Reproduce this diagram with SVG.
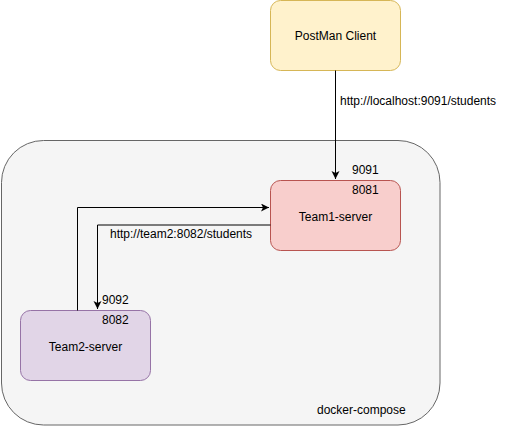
<svg xmlns="http://www.w3.org/2000/svg" width="511" height="429" viewBox="0 0 511 429">
<style>
text{font-family:"Liberation Sans",Arial,sans-serif;font-size:12px;fill:#000}
.c{text-anchor:middle}
.e{fill:none;stroke:#000;stroke-width:1}
</style>
<defs>
<marker id="arr" markerWidth="10" markerHeight="10" refX="8" refY="4" orient="auto" markerUnits="userSpaceOnUse">
<path d="M0,0 L8,4 L0,8 L2,4 Z" fill="#000"/>
</marker>
</defs>
<rect width="511" height="429" fill="#fff"/>
<g id="docker-compose">
<rect x="1.5" y="140.5" width="438.5" height="284.5" rx="42" ry="42" fill="#f5f5f5" stroke="#666666"/>
<text x="317" y="414">docker-compose</text>
</g>
<g id="postman">
<rect x="270.5" y="0.5" width="130" height="70" rx="10" ry="10" fill="#fff2cc" stroke="#d6b656"/>
<text class="c" x="335.5" y="40">PostMan Client</text>
</g>
<g id="team1">
<rect x="270.5" y="180.5" width="130" height="70" rx="10" ry="10" fill="#f8cecc" stroke="#b85450"/>
<text class="c" x="335.5" y="221">Team1-server</text>
<text x="352" y="174">9091</text>
<text x="352" y="194">8081</text>
</g>
<g id="team2">
<rect x="20.5" y="310.5" width="130" height="70" rx="10" ry="10" fill="#e1d5e7" stroke="#9673a6"/>
<text class="c" x="85.5" y="351">Team2-server</text>
<text x="102" y="304">9092</text>
<text x="102" y="324">8082</text>
</g>
<g id="connectors">
<path class="e" d="M335.5,70.5 L335.5,179" marker-end="url(#arr)"/>
<text x="340" y="105">http://localhost:9091/students</text>
<path class="e" d="M77.5,310.5 L77.5,207.5 L269,207.5" marker-end="url(#arr)"/>
<path class="e" d="M270.5,225 L97.5,225 L97.5,309" marker-end="url(#arr)"/>
<text x="110" y="238">http://team2:8082/students</text>
</g>
</svg>
